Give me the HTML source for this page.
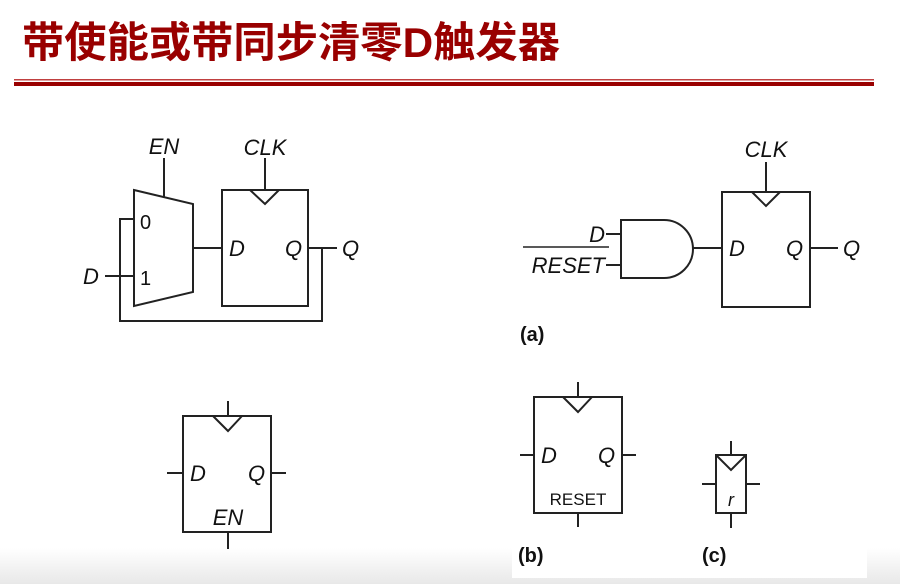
<!DOCTYPE html>
<html><head><meta charset="utf-8"><style>
html,body{margin:0;padding:0;background:#fff;width:900px;height:584px;overflow:hidden}
</style></head><body>
<svg width="900" height="584" viewBox="0 0 900 584" xmlns="http://www.w3.org/2000/svg">
<defs><linearGradient id="g" x1="0" y1="0" x2="0" y2="1"><stop offset="0" stop-color="#fff"/><stop offset="1" stop-color="#e8e8e8"/></linearGradient></defs>
<rect x="0" y="548" width="900" height="36" fill="url(#g)"/>
<rect x="512" y="548" width="355" height="30" fill="#fff"/>
<text x="22" y="57" font-family="'Liberation Sans','Noto Sans CJK SC',sans-serif" font-weight="bold" font-size="42" fill="#990000" textLength="538" lengthAdjust="spacingAndGlyphs">带使能或带同步清零D触发器</text>
<rect x="14" y="79" width="860" height="1.5" fill="#c04040"/>
<rect x="14" y="82" width="860" height="4" fill="#990000"/>
<g fill="none" stroke="#222" stroke-width="2">
<polygon points="134,190 193,204 193,292 134,306"/>
<line x1="164" y1="158" x2="164" y2="197"/>
<polyline points="134,219 120,219 120,321 322,321 322,248"/>
<line x1="105" y1="276" x2="134" y2="276"/>
<line x1="193" y1="248" x2="222" y2="248"/>
<rect x="222" y="190" width="86" height="116"/>
<polyline points="250,190 265,204 279,190"/>
<line x1="265" y1="158" x2="265" y2="190"/>
<line x1="308" y1="248" x2="337" y2="248"/>
<rect x="722" y="192" width="88" height="115"/>
<polyline points="752,192 766,206 780,192"/>
<line x1="766" y1="162" x2="766" y2="192"/>
<line x1="810" y1="248" x2="838" y2="248"/>
<path d="M621,220 H664 A29,29 0 0 1 664,278 H621 Z"/>
<line x1="693" y1="248" x2="722" y2="248"/>
<line x1="606" y1="234" x2="621" y2="234"/>
<line x1="606" y1="265" x2="621" y2="265"/>
<line x1="523" y1="247" x2="609" y2="247" stroke-width="1.5"/>
<rect x="183" y="416" width="88" height="116"/>
<polyline points="213,416 228,431 242,416"/>
<line x1="228" y1="401" x2="228" y2="416"/>
<line x1="228" y1="532" x2="228" y2="549"/>
<line x1="167" y1="473" x2="183" y2="473"/>
<line x1="271" y1="473" x2="286" y2="473"/>
<rect x="534" y="397" width="88" height="116"/>
<polyline points="563,397 578,412 592,397"/>
<line x1="578" y1="382" x2="578" y2="397"/>
<line x1="578" y1="513" x2="578" y2="527"/>
<line x1="520" y1="455" x2="534" y2="455"/>
<line x1="622" y1="455" x2="636" y2="455"/>
<rect x="716" y="455" width="30" height="58"/>
<polyline points="716,455 731,470 746,455"/>
<line x1="731" y1="441" x2="731" y2="455"/>
<line x1="731" y1="513" x2="731" y2="528"/>
<line x1="702" y1="484" x2="716" y2="484"/>
<line x1="746" y1="484" x2="760" y2="484"/>
</g>
<g font-family="'Liberation Sans',sans-serif" font-size="22" font-style="italic" fill="#111">
<text x="164" y="154" text-anchor="middle">EN</text>
<text x="265" y="155" text-anchor="middle">CLK</text>
<text x="83" y="284">D</text>
<text x="229" y="256">D</text>
<text x="285" y="256">Q</text>
<text x="342" y="256">Q</text>
<text x="766" y="157" text-anchor="middle">CLK</text>
<text x="605" y="242" text-anchor="end">D</text>
<text x="605" y="273" text-anchor="end">RESET</text>
<text x="729" y="256">D</text>
<text x="786" y="256">Q</text>
<text x="843" y="256">Q</text>
<text x="190" y="481">D</text>
<text x="248" y="481">Q</text>
<text x="228" y="525" text-anchor="middle">EN</text>
<text x="541" y="463">D</text>
<text x="598" y="463">Q</text>
<text x="731" y="506" text-anchor="middle" font-size="18">r</text>
</g>
<g font-family="'Liberation Sans',sans-serif" font-size="20" fill="#111">
<text x="140" y="229">0</text>
<text x="140" y="285">1</text>
<text x="578" y="505" text-anchor="middle" font-size="17">RESET</text>
</g>
<g font-family="'Liberation Sans',sans-serif" font-size="20" font-weight="bold" fill="#111">
<text x="520" y="341">(a)</text>
<text x="518" y="562">(b)</text>
<text x="702" y="562">(c)</text>
</g>
</svg>
</body></html>
